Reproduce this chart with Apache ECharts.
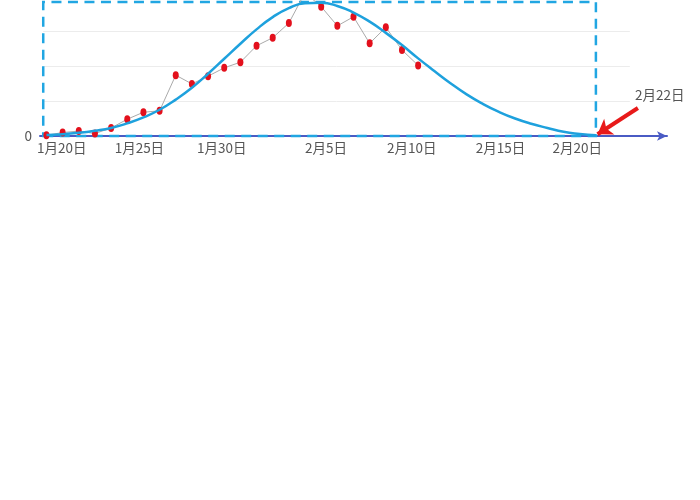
<!DOCTYPE html>
<html>
<head>
<meta charset="utf-8">
<script src="https://cdn.jsdelivr.net/npm/echarts@6/dist/echarts.min.js"></script>
<style>html,body{margin:0;padding:0;background:#fff;}#c{width:700px;height:500px;}</style>
</head>
<body>
<div id="c"></div>
<script>
// Days counted from 1月19日 (day 0)
var dotDays = [0,1,2,3,4,5,6,7,8,9,10,11,12,13,14,15,16,17,18,19,20,21,22,23];
var dotValues = [0.02,0.10,0.14,0.07,0.23,0.48,0.68,0.72,1.74,1.49,1.71,1.95,2.11,2.58,2.81,3.23,4.10,3.70,3.15,3.41,2.65,3.11,2.46,2.02];
var curveDays = [0,1,2,3,4,5,6,7,8,9,10,11,12,13,14,15,16,17,18,19,20,21,22,23,24,25,26,27,28,29,30,31,32,33,34];
var curveValues = [0.03,0.05,0.09,0.15,0.23,0.36,0.53,0.75,1.04,1.38,1.78,2.21,2.64,3.05,3.40,3.66,3.80,3.81,3.72,3.53,3.27,2.95,2.60,2.22,1.86,1.51,1.19,0.92,0.69,0.50,0.35,0.23,0.12,0.06,0.02];
var tickLabels = ['1月20日','1月25日','1月30日','2月5日','2月10日','2月15日','2月20日'];
var tickDays = [0.95,5.75,10.85,17.3,22.6,28.1,32.85];
var endDay = 34;          // 2月22日
var endLabel = '2月22日';
var peakValue = 3.83;

var labelMap = {};
tickDays.forEach(function (d, i) { labelMap[d] = tickLabels[i]; });

var chart = echarts.init(document.getElementById('c'), null, {renderer: 'canvas'});
var font = '"Noto Sans CJK SC", "Noto Sans", sans-serif';
chart.setOption({
  animation: false,
  backgroundColor: '#fff',
  grid: {left: 40, right: 33, top: 0, bottom: 364, containLabel: false},
  xAxis: {
    type: 'value', min: -0.4, max: 38.4,
    splitLine: {show: false},
    axisTick: {show: false},
    axisLine: {show: true, onZero: true, symbol: ['none', 'arrow'], symbolSize: [7, 10],
      lineStyle: {color: '#4a5bc4', width: 2}},
    axisLabel: {
      customValues: tickDays, color: '#555', fontSize: 13.5, fontFamily: font, margin: 5,
      formatter: function (v) { return labelMap[v] || ''; }
    }
  },
  yAxis: {
    type: 'value', min: 0, max: 3.89, interval: 1,
    axisLine: {show: false}, axisTick: {show: false},
    splitLine: {show: false},
    axisLabel: {color: '#555', fontSize: 13.5, fontFamily: font, margin: 8,
      formatter: function (v) { return v === 0 ? '0' : ''; }}
  },
  series: [
    {
      type: 'line', name: 'grid', data: [], silent: true, z: 0,
      markLine: {
        silent: true, z: 0, symbol: ['none', 'none'], label: {show: false},
        lineStyle: {color: '#ececec', width: 1, type: 'solid'},
        data: [1, 2, 3].map(function (v) { return [{coord: [-0.2, v]}, {coord: [36.1, v]}]; })
      }
    },
    {
      type: 'line', name: 'dots', smooth: false,
      data: dotDays.map(function (d, i) { return [d, dotValues[i]]; }),
      symbol: 'circle', symbolSize: [6, 8], showSymbol: true,
      itemStyle: {color: '#e3101c'},
      lineStyle: {color: '#aaaaaa', width: 1},
      z: 3
    },
    {
      type: 'line', name: 'curve', smooth: 0.5, showSymbol: false, symbol: 'none',
      data: curveDays.map(function (d, i) { return [d, curveValues[i]]; }),
      lineStyle: {color: '#1ea1dd', width: 2.5},
      z: 4,
      markArea: {
        silent: true, z: 1,
        itemStyle: {color: 'rgba(0,0,0,0)', borderColor: '#21a6e2', borderWidth: 2.5, borderType: [10, 6.5]},
        data: [[{coord: [-0.2, 0]}, {coord: [endDay, peakValue]}]]
      },
      markLine: {
        silent: true, symbol: ['none', 'arrow'], symbolSize: [14, 14],
        label: {show: false},
        lineStyle: {color: '#e81a1a', width: 4, type: 'solid'},
        data: [[{coord: [36.6, 0.8]}, {coord: [endDay + 0.1, 0.05]}]]
      },
      markPoint: {
        silent: true, symbol: 'circle', symbolSize: 0,
        label: {show: true, formatter: endLabel, color: '#555', fontSize: 13.5, fontFamily: font, position: 'inside'},
        data: [{coord: [37.95, 1.17]}]
      }
    }
  ]
});
</script>
</body>
</html>
